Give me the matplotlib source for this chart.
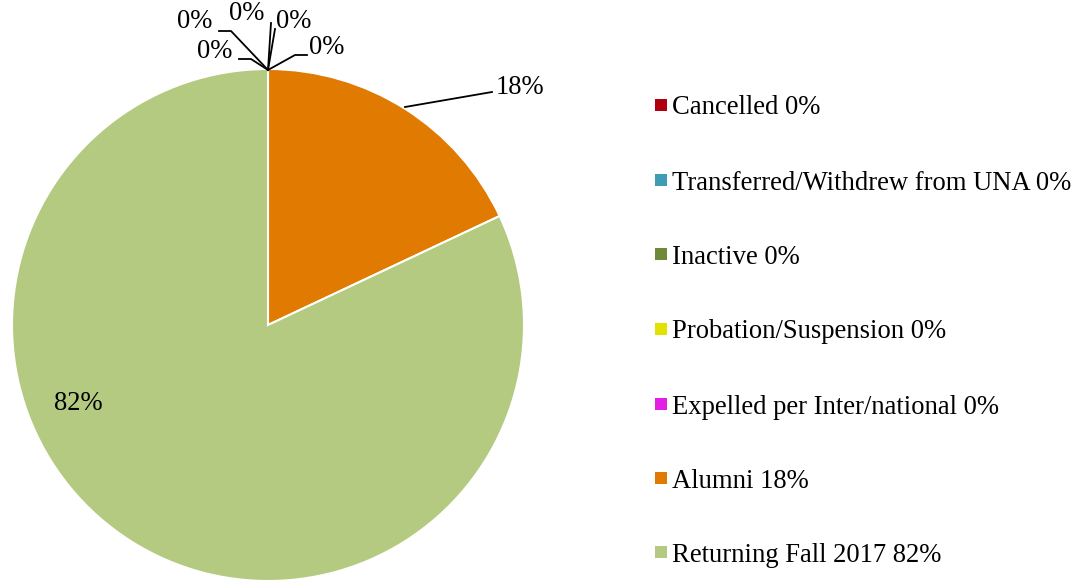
import matplotlib
matplotlib.use("Agg")
import matplotlib.pyplot as plt
from matplotlib.patches import Rectangle

categories = ["Cancelled", "Transferred/Withdrew from UNA", "Inactive",
              "Probation/Suspension", "Expelled per Inter/national",
              "Alumni", "Returning Fall 2017"]
values = [0, 0, 0, 0, 0, 18, 82]
colors = ["#B00010", "#3E9DB5", "#6E8A38", "#E2E200", "#E21FE2", "#E07A00", "#B3CA80"]

plt.rcParams['font.family'] = ['Liberation Serif', 'DejaVu Serif']
FS = 19.2
W, H = 1082, 584
fig = plt.figure(figsize=(W / 100, H / 100), dpi=100)

cx, cy, R = 268, 325, 256
ax = fig.add_axes([(cx - R) / W, (H - cy - R) / H, 2 * R / W, 2 * R / H])
nz = [(v, c) for v, c in zip(values, colors) if v > 0]
ax.pie([v for v, _ in nz], colors=[c for _, c in nz], startangle=90, counterclock=False,
       radius=1, wedgeprops=dict(edgecolor="white", linewidth=1.5))
ax.set_xlim(-1, 1)
ax.set_ylim(-1, 1)
ax.set_aspect("equal")
ax.axis("off")

def d(px, py):
    return ((px - cx) / R, (cy - py) / R)

# zero-value labels with leader lines (pixel layouts)
zero_labels = [
    ((215, 51), [(239, 59), (251, 59), (268, 70)]),
    ((195, 22), [(219, 31), (231, 31), (268, 70)]),
    ((247, 14), [(271, 23), (268, 70)]),
    ((294, 21), [(275, 29), (268, 70)]),
    ((327, 47), [(307, 55), (295, 55), (268, 70)]),
]
zero_vals = values[:5]
for v, (tp, line) in zip(zero_vals, zero_labels):
    pts = [d(*p) for p in line]
    ax.plot([p[0] for p in pts], [p[1] for p in pts], color="black", lw=1.3,
            clip_on=False)
    ax.text(*d(*tp), f"{v:.0f}%", ha="center", va="center", fontsize=FS, clip_on=False)

# Alumni label
pts = [d(405, 107), d(492, 92)]
ax.plot([p[0] for p in pts], [p[1] for p in pts], color="black", lw=1.3, clip_on=False)
ax.text(*d(520, 88), f"{values[5]:.0f}%", ha="center", va="center", fontsize=FS, clip_on=False)
# Returning label
ax.text(*d(78, 403), f"{values[6]:.0f}%", ha="center", va="center", fontsize=FS, clip_on=False)

# legend
row_y = [105, 180, 254, 329, 404, 478, 552]
for cat, v, c, y in zip(categories, values, colors, row_y):
    fig.patches.append(Rectangle(((655) / W, (H - y - 6) / H), 12 / W, 12 / H,
                                 transform=fig.transFigure, facecolor=c, edgecolor="none"))
    fig.text(672 / W, (H - y) / H, f"{cat} {v:.0f}%", ha="left", va="center_baseline",
             fontsize=FS)

fig.savefig("out.png", dpi=100)
